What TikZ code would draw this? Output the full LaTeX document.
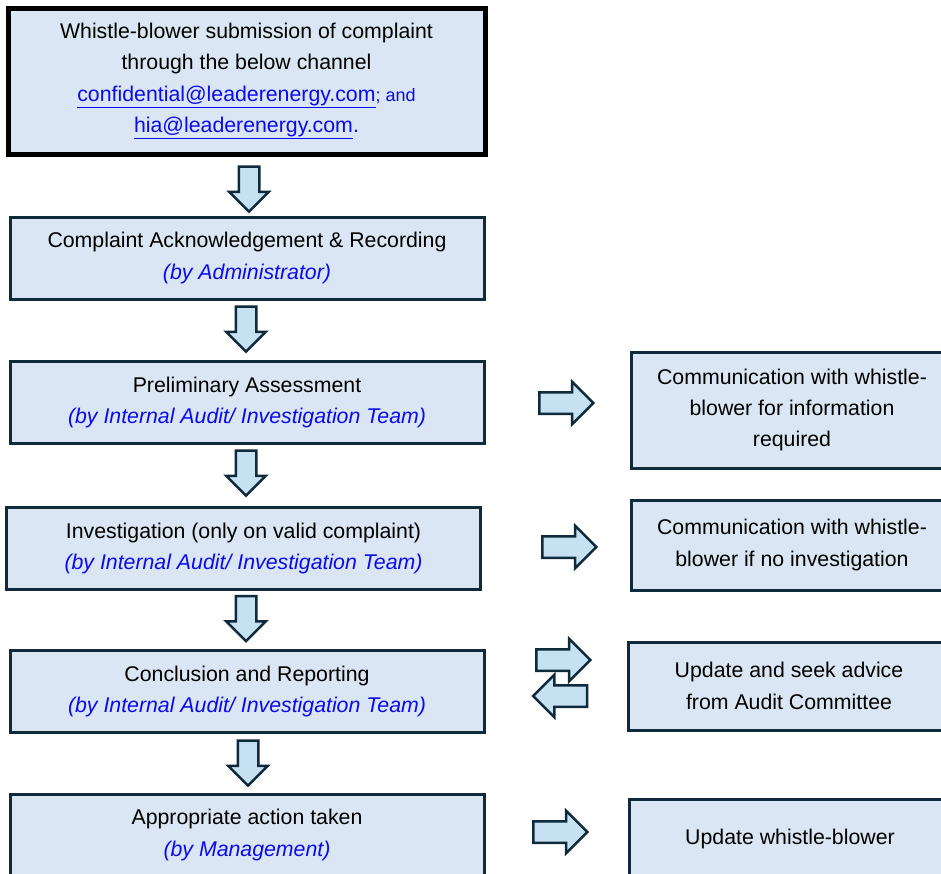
\documentclass[tikz,border=0pt]{standalone}
\usepackage{fontspec}
\setmainfont{Liberation Sans}
\usetikzlibrary{shapes.arrows,calc,positioning}
\definecolor{boxfill}{HTML}{DAE6F3}
\definecolor{arrowfill}{HTML}{C6E2F2}
\definecolor{navy}{HTML}{0F2A3B}
\definecolor{linkblue}{HTML}{0A0AF0}
\tikzset{
  stage/.style   = {draw=navy, line width=3pt, fill=boxfill, align=center,
                    minimum width=474pt, minimum height=82pt, inner sep=0pt,
                    font=\fontsize{21.3}{31.3}\selectfont},
  start/.style   = {stage, draw=black, line width=5pt, minimum width=477pt, minimum height=146pt},
  note/.style    = {stage, minimum width=322pt},
  blockarrow/.style = {single arrow, draw=navy, fill=arrowfill, line width=2.5pt,
                    inner xsep=0pt, single arrow head indent=0pt},
  down/.style    = {blockarrow, rotate=-90, minimum height=45pt, inner ysep=9pt, single arrow head extend=9.5pt},
  across/.style  = {blockarrow, minimum height=54pt, inner ysep=9.5pt, single arrow head extend=10.5pt},
  back/.style    = {across, rotate=180}
}
\newcommand{\who}[1]{{\color{linkblue}\itshape #1}}
\newcommand{\mail}[1]{{\color{linkblue}\underline{#1}}}

\begin{document}
\begin{tikzpicture}[x=1pt, y=-1pt]
    \useasboundingbox (0,0) rectangle (941,873);
    \clip (0,0) rectangle (941,873);
    % main column
    \node[start] (submit) at (246.5,81)  {Whistle-blower submission of complaint\\through the below channel\\
        \mail{confidential@leaderenergy.com}{\color{linkblue}\fontsize{18}{31}\selectfont; and}\\
        \mail{hia@leaderenergy.com}{\color{linkblue}.}};
    \node[stage] (record)  at (247,258)   {Complaint Acknowledgement \& Recording\\\who{(by Administrator)}};
    \node[stage] (assess)  at (247,402.5) {Preliminary Assessment\\\who{(by Internal Audit/ Investigation Team)}};
    \node[stage] (probe)   at (243.5,548.5) {Investigation (only on valid complaint)\\\who{(by Internal Audit/ Investigation Team)}};
    \node[stage] (report)  at (247,691.5) {Conclusion and Reporting\\\who{(by Internal Audit/ Investigation Team)}};
    \node[stage] (action)  at (247,835)   {Appropriate action taken\\\who{(by Management)}};
    % side column
    \node[note, minimum height=116pt] (askinfo) at (792,410) {Communication with whistle-\\blower for information\\required};
    \node[note, minimum height=90pt]  (noprobe) at (792,545) {Communication with whistle-\\blower if no investigation};
    \node[note, minimum height=88pt]  (advice)  at (789,686) {Update and seek advice\\from Audit Committee};
    \node[note, minimum height=80pt]  (tell)    at (790,839) {Update whistle-blower};
    % arrows down
    \node[down] (d1) at (249,184) {};
    \node[down] (d2) at (246,324) {};
    \node[down] (d3) at (246,468) {};
    \node[down] (d4) at (246,613.5) {};
    \node[down] (d5) at (248,758) {};
    % arrows across
    \node[across] (a1) at (561,403) {};
    \node[across] (a2) at (564,547) {};
    \node[across] (a3) at (558,660) {};
    \node[back]   (a4) at (565.5,696) {};
    \node[across] (a5) at (555,832) {};
\end{tikzpicture}
\end{document}
